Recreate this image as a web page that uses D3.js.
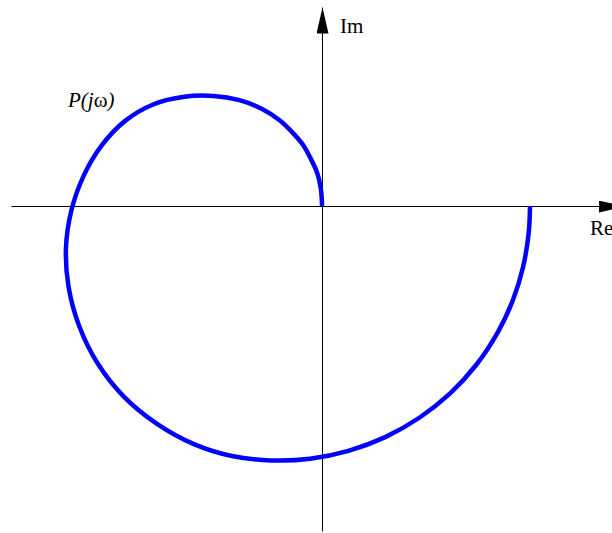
<!DOCTYPE html>
<html>
<head>
<meta charset="utf-8">
<script src="https://cdn.jsdelivr.net/npm/d3@7/dist/d3.min.js"></script>
<style>
  html, body { margin: 0; padding: 0; background: #fff; }
  svg { display: block; }
</style>
</head>
<body>
<script>
// Nyquist locus P(jω): real and imaginary parts, ω increasing from 0
const reValues = [1.000, 0.994, 0.967, 0.918, 0.847, 0.743, 0.616, 0.468, 0.304, 0.127,
  -0.057, -0.246, -0.433, -0.613, -0.795, -0.954, -1.079, -1.167, -1.218, -1.231,
  -1.205, -1.146, -1.060, -0.948, -0.812, -0.662, -0.522, -0.397, -0.290, -0.204,
  -0.138, -0.090, -0.057, -0.023, -0.007, -0.001, 0.000];
const imValues = [0.000, -0.126, -0.292, -0.452, -0.604, -0.762, -0.901, -1.018, -1.111, -1.177,
  -1.215, -1.223, -1.202, -1.146, -1.046, -0.915, -0.756, -0.578, -0.391, -0.203,
  -0.022, 0.145, 0.290, 0.408, 0.488, 0.525, 0.529, 0.509, 0.467, 0.412,
  0.349, 0.292, 0.233, 0.159, 0.092, 0.033, 0.000];
const axisLabels = ["Re", "Im"];

const width = 612, height = 533;
const unit = 208;
const x = d3.scaleLinear().domain([-1.5, 1.4]).range([322 - 1.5 * unit, 322 + 1.4 * unit]);
const y = d3.scaleLinear().domain([-1.56, 0.99]).range([206 + 1.56 * unit, 206 - 0.99 * unit]);

const svg = d3.select("body").append("svg")
  .attr("width", width).attr("height", height);

const defs = svg.append("defs");
defs.append("marker")
  .attr("id", "arrow")
  .attr("viewBox", "0 0 26 12")
  .attr("refX", 26).attr("refY", 6)
  .attr("markerWidth", 26).attr("markerHeight", 12)
  .attr("markerUnits", "userSpaceOnUse")
  .attr("orient", "auto")
  .append("path")
  .attr("d", "M0,0 L26,6 L0,12 Z")
  .attr("fill", "#000");

const axes = svg.append("g").attr("transform", "translate(0.5,0.5)");

// Real axis
axes.append("line")
  .attr("x1", 11).attr("y1", y(0))
  .attr("x2", 624).attr("y2", y(0))
  .attr("stroke", "#000").attr("stroke-width", 1)
  .attr("marker-end", "url(#arrow)");

// Imaginary axis
axes.append("line")
  .attr("x1", x(0)).attr("y1", 531)
  .attr("x2", x(0)).attr("y2", 7)
  .attr("stroke", "#000").attr("stroke-width", 1)
  .attr("marker-end", "url(#arrow)");

// Locus
const pts = reValues.map((r, i) => [r, imValues[i]]);
const line = d3.line()
  .x(d => x(d[0])).y(d => y(d[1]))
  .curve(d3.curveCatmullRom.alpha(0.5));
svg.append("path")
  .datum(pts)
  .attr("d", line)
  .attr("fill", "none")
  .attr("stroke", "#0000ff")
  .attr("stroke-width", 4.5)
  .attr("stroke-linecap", "butt");

// Labels
const font = "'Liberation Serif', 'Times New Roman', serif";
svg.append("text")
  .attr("x", 590).attr("y", 235)
  .attr("font-family", font).attr("font-size", 21)
  .text(axisLabels[0]);
svg.append("text")
  .attr("x", 340).attr("y", 33)
  .attr("font-family", font).attr("font-size", 21)
  .text(axisLabels[1]);

const t = svg.append("text")
  .attr("x", 68).attr("y", 107)
  .attr("font-family", font).attr("font-size", 21);
t.append("tspan").attr("font-style", "italic").text("P(j");
t.append("tspan").text("ω");
t.append("tspan").attr("font-style", "italic").text(")");
</script>
</body>
</html>
